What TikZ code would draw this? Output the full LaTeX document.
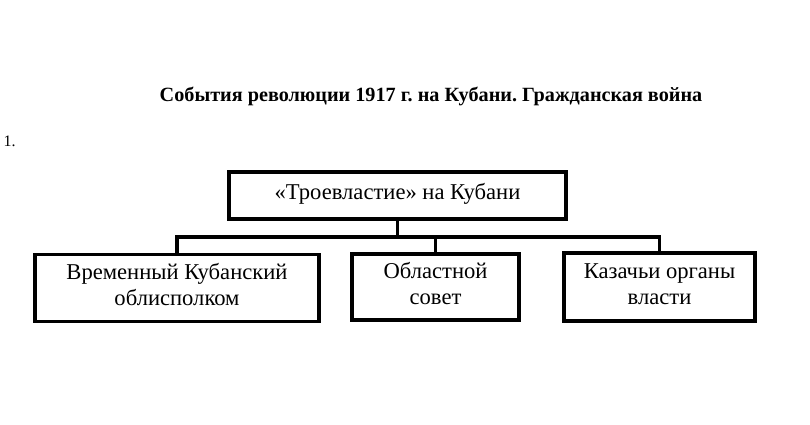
\documentclass[tikz,border=0pt]{standalone}
\usepackage{fontspec}
\setmainfont{Liberation Serif}
\usetikzlibrary{positioning}
\frenchspacing
\newcommand\topstrut{\rule[-7.8pt]{0pt}{24.2pt}}

\begin{document}
\begin{tikzpicture}[x=1pt,y=-1pt]
    \tikzset{BoxStyle/.style = {draw, line width=3.5pt, align=center, inner sep=0pt,
                                font=\fontsize{22.6}{26}\selectfont},
             LinkStyle/.style = {line width=3.5pt}}
    \useasboundingbox (0,0) rectangle (810,425);
    % heading
    \node[font=\bfseries\fontsize{20.2}{22}\selectfont] (title) at (431,96)
        {События революции 1917 г. на Кубани. Гражданская война};
    \node[font=\fontsize{16}{18}\selectfont, anchor=west] (num) at (0,141) {1.};
    % boxes
    \node[BoxStyle, minimum width=337, minimum height=47] (troe) at (397.5,195.5)
        {\topstrut«Троевластие» на Кубани};
    \node[BoxStyle, minimum width=284, minimum height=67] (vkb) at (177,288)
        {\topstrut Временный Кубанский\\\strut облисполком};
    \node[BoxStyle, minimum width=167, minimum height=66] (obl) at (435.5,287)
        {\topstrut Областной\\\strut совет};
    \node[BoxStyle, minimum width=191, minimum height=68] (kaz) at (659.5,287)
        {\topstrut Казачьи органы\\\strut власти};
    % links
    \coordinate (bus) at (0,237);
    \draw[LinkStyle] (troe.south) -- (troe.south |- bus);
    \draw[LinkStyle] (vkb.north) |- (kaz.north |- bus) -- (kaz.north);
    \draw[LinkStyle] (obl.north) -- (obl.north |- bus);
\end{tikzpicture}
\end{document}
